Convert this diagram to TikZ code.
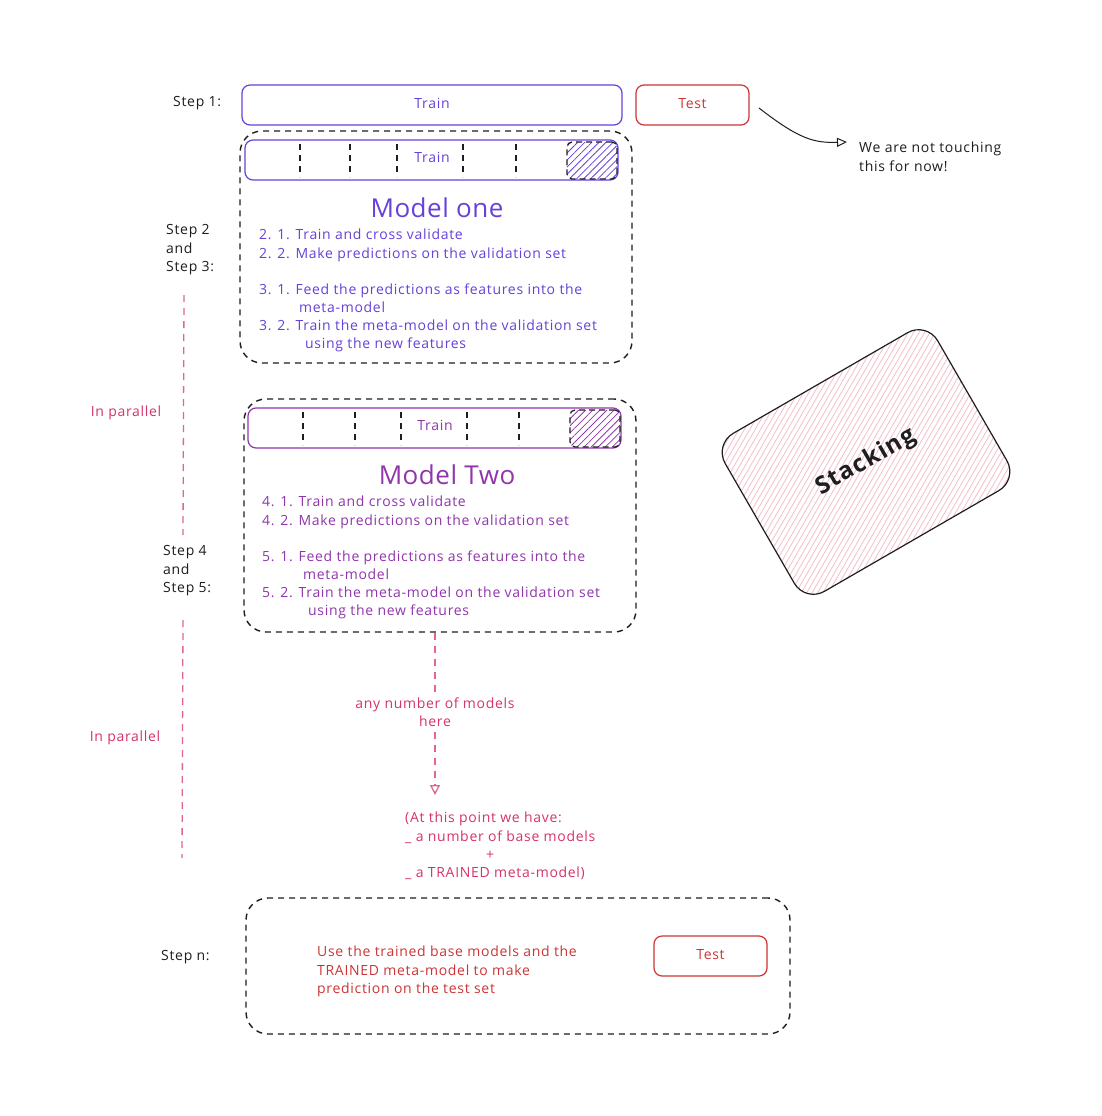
\documentclass[tikz,border=0pt]{standalone}
\usepackage{fontspec}
\setmainfont{Open Sans}[LetterSpace=5]
\newfontfamily\titlefont{Open Sans}[LetterSpace=2]
\usetikzlibrary{arrows.meta,patterns.meta}
\definecolor{ink}{HTML}{1E1E1E}
\definecolor{vio}{HTML}{6741D9}
\definecolor{grape}{HTML}{9036AA}
\definecolor{redc}{HTML}{CC3535}
\definecolor{pinkc}{HTML}{D6336C}
\definecolor{hatchpink}{HTML}{F4BFCB}
\begin{document}
\begin{tikzpicture}[x=1pt,y=-1pt,
  txt/.style={font=\fontsize{14}{16}\selectfont, inner sep=0pt, text height=10pt, text depth=3pt},
  lbl/.style={txt, text=ink, anchor=west},
  mtxt/.style={font=\fontsize{14}{18.5}\selectfont, inner sep=0pt, align=left},
  bar/.style={draw=#1, rounded corners=8pt, line width=1.2pt},
  dbox/.style={draw=ink, dash pattern=on 6pt off 5pt, rounded corners=22pt, line width=1.4pt},
  sep/.style={draw=ink, dash pattern=on 6pt off 5pt, line width=1.2pt},
  hatch/.style={draw=ink, dash pattern=on 6pt off 4pt, rounded corners=5pt, line width=1.2pt,
     pattern={Lines[angle=45,distance=5pt,line width=0.8pt]}, pattern color=#1,
     minimum width=50pt, minimum height=37pt},
  title/.style={font=\titlefont\fontsize{26}{30}\selectfont, inner sep=0pt},
  pline/.style={draw=pinkc!75, dash pattern=on 7pt off 6pt, line width=1.3pt},
]
\fill[white] (0,0) rectangle (1102,1116);
\useasboundingbox (0,0) rectangle (1102,1116);

% ---- Step 1
\node[lbl] (s1) at (173,103) {Step 1:};
\node[bar=vio, txt, text=vio, minimum width=380pt, minimum height=40pt] (train) at (432,105) {Train};
\node[bar=redc, txt, text=redc, minimum width=113pt, minimum height=40pt] (test) at (692.5,105) {Test};
\node[mtxt, text=ink, anchor=north west] (note) at (859,142) {We are not touching\\this for now!};
\coordinate (ta) at (759,108);
\coordinate (tb) at (note.north west);
\draw[ink, line width=1pt, -{Triangle[open,length=10pt,width=9pt]}]
  (ta) .. controls (800,140) and (815,143) .. ([xshift=-12pt]tb);

% ---- Model one
\node[dbox, minimum width=392pt, minimum height=232pt] (m1) at (436,247) {};
\node[bar=vio, minimum width=373pt, minimum height=40pt] (bar1) at (431.5,160) {};
\foreach \x in {300,350,397,463,516} \draw[sep] (\x,144) -- (\x,177);
\node[hatch=vio] (h1) at (592,160.5) {};
\node[txt, text=vio] (tr1) at (432,159) {Train};
\node[title, text=vio] (t1) at (437,208) {Model one};
\begin{scope}[every node/.style={lbl, text=vio}]
\node (a1) at (259,236) {2. 1. Train and cross validate};
\node (a2) at (259,255) {2. 2. Make predictions on the validation set};
\node (a3) at (259,291) {3. 1. Feed the predictions as features into the};
\node (a4) at (299,309) {meta-model};
\node (a5) at (259,327) {3. 2. Train the meta-model on the validation set};
\node (a6) at (305,345) {using the new features};
\end{scope}
\node[lbl] (s2a) at (166,231) {Step 2};
\node[lbl] (s2b) at (166,250) {and};
\node[lbl] (s2c) at (166,268) {Step 3:};

% ---- parallel lines
\coordinate (p1) at (184,295); \coordinate (p2) at (183,535);
\coordinate (p3) at (183,620); \coordinate (p4) at (182,858);
\draw[pline] (p1) -- (p2);
\draw[pline] (p3) -- (p4);
\node[txt, text=pinkc] (ip1) at (126,413) {In parallel};
\node[txt, text=pinkc] (ip2) at (125,738) {In parallel};

% ---- Model two
\node[dbox, minimum width=392pt, minimum height=233pt] (m2) at (440,515.5) {};
\node[bar=grape, minimum width=373pt, minimum height=40pt] (bar2) at (434.5,428) {};
\foreach \x in {303,355,401,467,519} \draw[sep] (\x,412) -- (\x,445);
\node[hatch=grape] (h2) at (595,428.5) {};
\node[txt, text=grape] (tr2) at (435,427) {Train};
\node[title, text=grape] (t2) at (447,475) {Model Two};
\begin{scope}[every node/.style={lbl, text=grape}]
\node (b1) at (262,503) {4. 1. Train and cross validate};
\node (b2) at (262,522) {4. 2. Make predictions on the validation set};
\node (b3) at (262,558) {5. 1. Feed the predictions as features into the};
\node (b4) at (303,576) {meta-model};
\node (b5) at (262,594) {5. 2. Train the meta-model on the validation set};
\node (b6) at (308,612) {using the new features};
\end{scope}
\node[lbl] (s4a) at (163,552) {Step 4};
\node[lbl] (s4b) at (163,571) {and};
\node[lbl] (s4c) at (163,589) {Step 5:};

% ---- any number of models
\node[mtxt, align=center, text=pinkc, inner sep=5pt] (anyn) at (435,712) {any number of models\\here};
\coordinate (arr) at (435,795);
\draw[pline] (m2.south -| anyn.north) -- (anyn.north);
\draw[pline, -{Triangle[open,length=10pt,width=10pt]}] (anyn.south) -- (arr);

\begin{scope}[every node/.style={lbl, text=pinkc}]
\node (c1) at (405,819) {(At this point we have:};
\node (c2) at (405,838) {\_ a number of base models};
\node[anchor=center] (c3) at (490,856) {+};
\node (c4) at (405,874) {\_ a TRAINED meta-model)};
\end{scope}

% ---- Step n
\node[dbox, minimum width=544pt, minimum height=136pt] (mn) at (518,966) {};
\node[lbl] (sn) at (161,957) {Step n:};
\begin{scope}[every node/.style={lbl, text=redc}]
\node (d1) at (317,953) {Use the trained base models and the};
\node (d2) at (317,972) {TRAINED meta-model to make};
\node (d3) at (317,990) {prediction on the test set};
\end{scope}
\node[bar=redc, txt, text=redc, minimum width=113pt, minimum height=40pt] (test2) at (710.5,956) {Test};

% ---- Stacking
\node[rotate=30, minimum width=245pt, minimum height=182pt, inner sep=0pt] (stack) at (866,462) {};
\begin{scope}
\clip[rounded corners=22pt] (stack.north west) -- (stack.north east) -- (stack.south east) -- (stack.south west) -- cycle;
\foreach \k in {-46,...,46}
  \draw[hatchpink, line width=0.8pt] ({866+\k*5.4-105},{462+182}) -- ({866+\k*5.4+105},{462-182});
\end{scope}
\draw[ink, line width=1.2pt, rounded corners=22pt] (stack.north west) -- (stack.north east) -- (stack.south east) -- (stack.south west) -- cycle;
\node[rotate=30, font=\fontsize{24}{28}\selectfont\bfseries, text=ink] (stt) at (stack.center) {Stacking};
\end{tikzpicture}
\end{document}
